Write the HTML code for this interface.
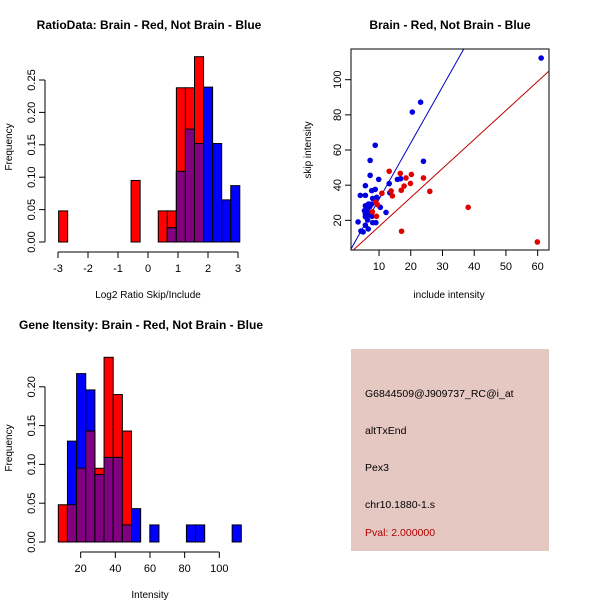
<!DOCTYPE html>
<html><head><meta charset="utf-8"><style>
body{margin:0;background:#fff}
svg{display:block;font-family:"Liberation Sans",sans-serif}
</style></head><body>
<svg id="s" width="600" height="600" xmlns="http://www.w3.org/2000/svg">
<rect width="600" height="600" fill="#fff"/>
<text x="149" y="29" font-size="12" font-weight="bold" text-anchor="middle">RatioData: Brain - Red, Not Brain - Blue</text>
<text x="450" y="29" font-size="12" font-weight="bold" text-anchor="middle">Brain - Red, Not Brain - Blue</text>
<text x="141" y="329" font-size="12" font-weight="bold" text-anchor="middle">Gene Itensity: Brain - Red, Not Brain - Blue</text>
<g id="p1"></g>
<g id="p2"></g>
<g id="p3"></g>
<g>
<rect x="351" y="349" width="198" height="202" fill="#e5c8c2"/>
<text x="365" y="397" font-size="10.5">G6844509@J909737_RC@i_at</text>
<text x="365" y="434" font-size="10.5">altTxEnd</text>
<text x="365" y="471" font-size="10.5">Pex3</text>
<text x="365" y="508" font-size="10.5">chr10.1880-1.s</text>
<text x="365" y="536" font-size="10.5" fill="#b00000">Pval: 2.000000</text>
</g>
</svg>
<script>
// Ratio histogram data
const ratioRed = [0.048,0,0,0,0,0,0,0,0.095,0,0,0.048,0.048,0.238,0.238,0.286,0,0,0,0];
const ratioBlue = [0,0,0,0,0,0,0,0,0,0,0,0,0.022,0.109,0.174,0.152,0.239,0.152,0.065,0.087];
const ratioStart = -2.98, ratioWidth = 0.302;
const ratioXTicks = [-3,-2,-1,0,1,2,3];
const ratioYTicks = ["0.00","0.05","0.10","0.15","0.20","0.25"];
// Intensity histogram data
const intRed = [0.048,0.048,0.095,0.143,0.095,0.238,0.19,0.143,0,0,0,0,0,0,0,0,0,0,0,0];
const intBlue = [0,0.13,0.217,0.196,0.087,0.109,0.109,0.022,0.043,0,0.022,0,0,0,0.022,0.022,0,0,0,0.022];
const intStart = 7.1, intWidth = 5.28;
const intXTicks = [20,40,60,80,100];
const intYTicks = ["0.00","0.05","0.10","0.15","0.20"];
// Scatter data
const blueX = [61.1,23.1,20.5,8.8,24.0,7.2,7.2,9.9,13.2,15.8,16.8,5.7,8.8,7.7,4.1,5.7,8.0,9.3,13.4,10.4,5.7,6.7,7.7,5.4,6.4,7.1,5.7,7.8,12.2,6.4,9.0,8.0,3.4,5.7,6.6,4.3,5.0,5.7,6.4,7.1];
const blueY = [112.3,87.2,81.6,62.7,53.6,54.1,45.6,43.3,40.9,43.3,43.7,39.7,37.6,36.9,34.2,34.2,32.5,33.1,35.7,27.4,28.3,29.3,29.3,25.5,25.5,24.4,22.1,22.3,24.5,20.2,18.7,18.7,19.1,17.2,15.1,13.9,13.4,23.6,23.4,27.8];
const redX = [13.2,16.7,20.2,18.5,24.0,17.9,19.9,17.0,26.0,13.8,14.2,10.9,9.0,9.5,9.2,7.9,17.1,38.1,59.9];
const redY = [47.9,46.7,46.1,44.1,44.1,39.5,41.0,37.1,36.5,36.7,33.9,35.4,30.4,28.9,22.3,24.8,13.8,27.4,7.7];
const blueSlope = 3.2, redSlope = 1.65;
const scXTicks = [10,20,30,40,50,60];
const scYTicks = [20,40,60,80,100];

const NS="http://www.w3.org/2000/svg";
function mk(parent,tag,attrs){const e=document.createElementNS(NS,tag);for(const k in attrs)e.setAttribute(k,attrs[k]);parent.appendChild(e);return e;}

function hist(g,red,blue,start,width,sx,sy,xticks,yticks,ystep,xlabel,axisY,axisX){
  for(let i=0;i<red.length;i++){
    const x0=sx(start+i*width), x1=sx(start+(i+1)*width);
    const r=red[i], b=blue[i];
    if(r>0){const e=mk(g,'rect',{x:x0,y:sy(r),width:x1-x0,height:sy(0)-sy(r),fill:'#ff0000',stroke:'#000','stroke-width':1});
      
      }
    if(b>0){const e=mk(g,'rect',{x:x0,y:sy(b),width:x1-x0,height:sy(0)-sy(b),fill:'#0000ff',stroke:'#000','stroke-width':1});
      
      }
    const m=Math.min(r,b);
    if(m>0){const e=mk(g,'rect',{x:x0,y:sy(m),width:x1-x0,height:sy(0)-sy(m),fill:'#800080',stroke:'#000','stroke-width':1});
      
      }
  }
  // y axis
  const yv=yticks.map((t,i)=>i*ystep);
  mk(g,'line',{x1:axisX,x2:axisX,y1:sy(0),y2:sy(yv[yv.length-1]),stroke:'#000'});
  yticks.forEach((t,i)=>{const y=sy(yv[i]);mk(g,'line',{x1:axisX-6,x2:axisX,y1:y,y2:y,stroke:'#000'});
    const tx=mk(g,'text',{x:axisX-10,y:y,'font-size':11,'text-anchor':'middle',transform:`rotate(-90 ${axisX-10} ${y})`});tx.textContent=t;
    
    });
  mk(g,'line',{x1:sx(xticks[0]),x2:sx(xticks[xticks.length-1]),y1:axisY,y2:axisY,stroke:'#000'});
  xticks.forEach(t=>{const x=sx(t);mk(g,'line',{x1:x,x2:x,y1:axisY,y2:axisY+6,stroke:'#000'});
    const tx=mk(g,'text',{x:x,y:axisY+20,'font-size':11,'text-anchor':'middle'});tx.textContent=t;
    
    });
  return {axisX};
}

// Panel 1
(function(){
  const g=document.getElementById('p1');
  const sx=v=>58+(v+3)*30, sy=v=>242-v/0.05*32.4;
  hist(g,ratioRed,ratioBlue,ratioStart,ratioWidth,sx,sy,ratioXTicks,ratioYTicks,0.05,'',252,45);
  let t=mk(g,'text',{x:148,y:298,'font-size':10,'text-anchor':'middle'});t.textContent='Log2 Ratio Skip/Include';
  
  
  t=mk(g,'text',{x:12,y:147,'font-size':10,'text-anchor':'middle',transform:'rotate(-90 12 147)'});t.textContent='Frequency';
  
  
})();

// Panel 3
(function(){
  const g=document.getElementById('p3');
  const sx=v=>46+v*1.733, sy=v=>542-v/0.05*38.8;
  hist(g,intRed,intBlue,intStart,intWidth,sx,sy,intXTicks,intYTicks,0.05,'',552,45);
  let t=mk(g,'text',{x:150,y:598,'font-size':10,'text-anchor':'middle'});t.textContent='Intensity';
  
  
  t=mk(g,'text',{x:12,y:448,'font-size':10,'text-anchor':'middle',transform:'rotate(-90 12 448)'});t.textContent='Frequency';
  
  
})();

// Panel 2 scatter
(function(){
  const g=document.getElementById('p2');
  const sx=v=>347.3+v*3.173, sy=v=>255.5-v*1.758;
  const L=351,R=549,T=49,B=250;
  const cp=mk(g,'clipPath',{id:'clip'});mk(cp,'rect',{x:L,y:T,width:R-L,height:B-T});
  const lg=mk(g,'g',{'clip-path':'url(#clip)'});
  let e=mk(lg,'line',{x1:sx(0),y1:sy(0),x2:sx(70),y2:sy(70*blueSlope),stroke:'#0000c0','stroke-width':1});
  
  
  e=mk(lg,'line',{x1:sx(0),y1:sy(0),x2:sx(70),y2:sy(70*redSlope),stroke:'#c00000','stroke-width':1});
  
  
  blueX.forEach((x,i)=>{const c=mk(lg,'circle',{cx:sx(x),cy:sy(blueY[i]),r:2.8,fill:'#0000e0'});
    
    });
  redX.forEach((x,i)=>{const c=mk(lg,'circle',{cx:sx(x),cy:sy(redY[i]),r:2.8,fill:'#e00000'});
    
    });
  mk(g,'rect',{x:L,y:T,width:R-L,height:B-T,fill:'none',stroke:'#000'});
  scXTicks.forEach(t=>{const x=sx(t);mk(g,'line',{x1:x,x2:x,y1:B,y2:B+6,stroke:'#000'});
    const tx=mk(g,'text',{x:x,y:B+20,'font-size':11,'text-anchor':'middle'});tx.textContent=t;
    
    });
  scYTicks.forEach(t=>{const y=sy(t);mk(g,'line',{x1:L-6,x2:L,y1:y,y2:y,stroke:'#000'});
    const tx=mk(g,'text',{x:L-10,y:y,'font-size':11,'text-anchor':'middle',transform:`rotate(-90 ${L-10} ${y})`});tx.textContent=t;
    
    });
  let t=mk(g,'text',{x:449,y:298,'font-size':10,'text-anchor':'middle'});t.textContent='include intensity';
  
  
  t=mk(g,'text',{x:311,y:150,'font-size':10,'text-anchor':'middle',transform:'rotate(-90 311 150)'});t.textContent='skip intensity';
  
  
})();
</script>
</body></html>
